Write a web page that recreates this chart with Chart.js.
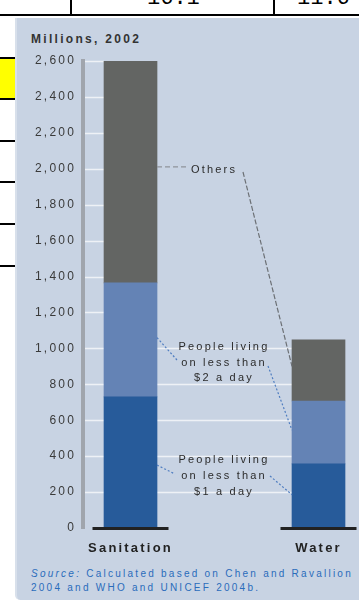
<!DOCTYPE html>
<html>
<head>
<meta charset="utf-8">
<script src="https://cdn.jsdelivr.net/npm/chart.js@4.4.1/dist/chart.umd.min.js"></script>
<style>
  body { margin: 0; width: 359px; height: 602px; position: relative; overflow: hidden; background: #fff; font-family: "Liberation Sans", Arial, sans-serif; }
  .rule { position: absolute; background: #000; }
  .cell { position: absolute; top: -12px; font-family: "Liberation Mono", monospace; font-size: 22px; line-height: 22px; color: #000; }
  .panel { position: absolute; left: 15px; top: 18px; width: 344px; height: 582px; background: #c8d3e3; border-left: 2px solid #d8e0eb; box-sizing: border-box; border-bottom-left-radius: 5px; }
  .title { position: absolute; left: 31px; top: 32px; font-weight: bold; font-size: 12px; letter-spacing: 2.3px; color: #333; }
  .source { position: absolute; left: 31px; top: 567px; font-size: 10px; line-height: 14px; letter-spacing: 2.25px; color: #2a6cbb; }
  #chart { position: absolute; left: 0; top: 0; }
</style>
</head>
<body>
<!-- bits of the table above the figure -->
<div class="cell" style="left:147px">16.1</div>
<div class="cell" style="left:297px">11.6</div>
<div class="rule" style="left:70px;top:0;width:2px;height:15px"></div>
<div class="rule" style="left:273px;top:0;width:2px;height:15px"></div>
<div class="rule" style="left:0;top:14px;width:359px;height:2px"></div>
<div style="position:absolute;left:0;top:58px;width:15px;height:41px;background:#ffff00"></div>
<div class="rule" style="left:0;top:57px;width:15px;height:2px"></div>
<div class="rule" style="left:0;top:98px;width:15px;height:2px"></div>
<div class="rule" style="left:0;top:140px;width:15px;height:2px"></div>
<div class="rule" style="left:0;top:181px;width:15px;height:2px"></div>
<div class="rule" style="left:0;top:223px;width:15px;height:2px"></div>
<div class="rule" style="left:0;top:265px;width:15px;height:2px"></div>

<div class="panel"></div>
<div class="title">Millions, 2002</div>
<div class="source"><i>Source:</i> Calculated based on Chen and Ravallion<br>2004 and WHO and UNICEF 2004b.</div>
<canvas id="chart" width="359" height="602"></canvas>

<script>
const categories = ['Sanitation', 'Water'];
const under1Day = [730, 357];
const under2Day = [635, 350];
const others = [1235, 340];
const seriesNames = ['People living on less than $1 a day', 'People living on less than $2 a day', 'Others'];
const yMax = 2600;
const yStep = 200;

const colors = ['#275b9a', '#6483b5', '#636563'];

function points(arr) {
  return arr.map((v, i) => ({ x: i, y: v }));
}

// white gridlines, only in the open space beside the bars
const gridPlugin = {
  id: 'grid',
  beforeDatasetsDraw(chart) {
    const ctx = chart.ctx, y = chart.scales.y, area = chart.chartArea;
    const bars = chart.getDatasetMeta(0).data;
    const san = bars[0], wat = bars[1];
    const waterTotal = under1Day[1] + under2Day[1] + others[1];
    ctx.save();
    ctx.strokeStyle = '#eef1f6';
    ctx.lineWidth = 1.5;
    y.ticks.forEach(t => {
      if (t.value === 0) return;
      const py = Math.round(y.getPixelForValue(t.value)) + 0.5;
      ctx.beginPath();
      ctx.moveTo(area.left + 2, py);
      ctx.lineTo(san.x - san.width / 2, py);
      if (t.value <= waterTotal) {
        ctx.moveTo(san.x + san.width / 2, py);
        ctx.lineTo(wat.x - wat.width / 2, py);
      }
      ctx.stroke();
    });
    ctx.restore();
  }
};

// dark base under each bar + the callout labels
const calloutPlugin = {
  id: 'callouts',
  afterDatasetsDraw(chart) {
    const ctx = chart.ctx, y = chart.scales.y, area = chart.chartArea;
    const bars = chart.getDatasetMeta(0).data;
    const san = bars[0], wat = bars[1];
    ctx.save();
    ctx.fillStyle = '#222';
    bars.forEach(b => ctx.fillRect(b.x - 38, area.bottom - 1, 76, 3));

    const sR = san.x + san.width / 2;
    const wL = wat.x - wat.width / 2;
    function seg(x1, y1, x2, y2, color, dash) {
      ctx.strokeStyle = color;
      ctx.setLineDash(dash);
      ctx.lineWidth = 1.2;
      ctx.beginPath();
      ctx.moveTo(x1, y1);
      ctx.lineTo(x2, y2);
      ctx.stroke();
    }
    // Others
    seg(sR, y.getPixelForValue(2010), 186, y.getPixelForValue(2010), '#8f949b', [5, 3]);
    seg(243, 172, wL, y.getPixelForValue(900), '#6c7075', [5, 2]);
    // $2 a day
    seg(sR, y.getPixelForValue(1060), 177, 360, '#4f7dc0', [2, 2]);
    seg(268, 366, wL, y.getPixelForValue(545), '#4f7dc0', [2, 2]);
    // $1 a day
    seg(sR, y.getPixelForValue(350), 175, 474, '#4f7dc0', [2, 2]);
    seg(270, 476, wL, y.getPixelForValue(185), '#4f7dc0', [2, 2]);
    ctx.setLineDash([]);

    ctx.fillStyle = '#2b2b2b';
    ctx.font = '11px "Liberation Sans", Arial, sans-serif';
    ctx.textAlign = 'center';
    ctx.textBaseline = 'middle';
    ctx.letterSpacing = '2.2px';
    ctx.fillText('Others', 214, 170);
    ['People living', 'on less than', '$2 a day'].forEach((s, i) => ctx.fillText(s, 224, 347 + i * 15.5));
    ['People living', 'on less than', '$1 a day'].forEach((s, i) => ctx.fillText(s, 224, 460 + i * 16));
    ctx.restore();
  }
};

const spacingPlugin = {
  id: 'spacing',
  beforeDraw(chart) { chart.ctx.letterSpacing = '2.2px'; }
};

new Chart(document.getElementById('chart'), {
  type: 'bar',
  data: {
    datasets: [
      { label: seriesNames[0], data: points(under1Day), backgroundColor: colors[0] },
      { label: seriesNames[1], data: points(under2Day), backgroundColor: colors[1] },
      { label: seriesNames[2], data: points(others), backgroundColor: colors[2] }
    ]
  },
  options: {
    responsive: false,
    animation: false,
    barThickness: 53,
    layout: { padding: { left: 23, top: 61, right: 0, bottom: 44 } },
    plugins: { legend: { display: false }, tooltip: { enabled: false } },
    scales: {
      x: {
        type: 'linear',
        stacked: true,
        offset: false,
        min: -0.2527,
        max: 1.2154,
        grid: { display: false, drawTicks: false },
        border: { display: false },
        afterBuildTicks(scale) { scale.ticks = categories.map((c, i) => ({ value: i })); },
        afterFit(scale) { scale.height = 30; },
        ticks: {
          padding: 13,
          color: '#222',
          font: { family: '"Liberation Sans", Arial, sans-serif', size: 13, weight: 'bold' },
          callback: v => categories[v]
        }
      },
      y: {
        stacked: true,
        min: 0,
        max: yMax,
        grid: { display: false, drawTicks: false },
        border: { display: true, color: '#a0a5ad', width: 4 },
        afterFit(scale) { scale.width = 60; },
        ticks: {
          stepSize: yStep,
          padding: 7,
          color: '#3a3a3a',
          font: { family: '"Liberation Sans", Arial, sans-serif', size: 12 },
          callback: v => v.toLocaleString('en-US')
        }
      }
    }
  },
  plugins: [spacingPlugin, gridPlugin, calloutPlugin]
});
</script>
</body>
</html>
